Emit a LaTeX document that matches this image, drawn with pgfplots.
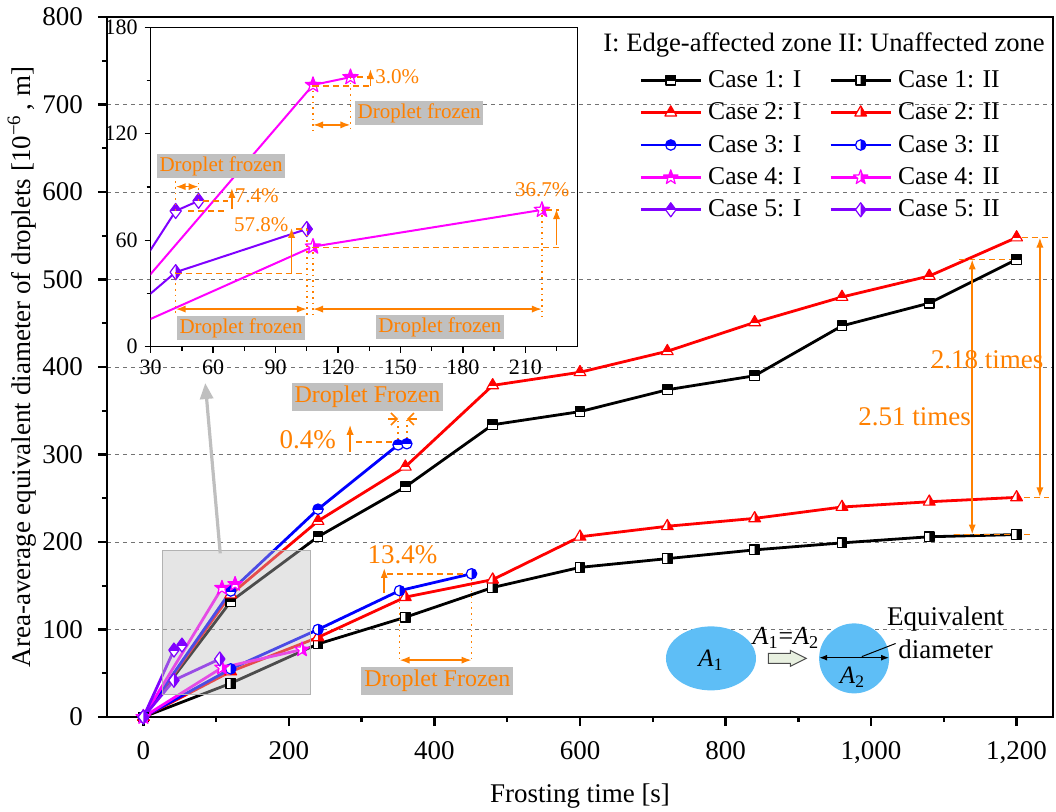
\documentclass[border=0pt]{standalone}
\usepackage{fontspec}
\setmainfont{Liberation Serif}
\usepackage{pgfplots}
\pgfplotsset{compat=1.18}
\usetikzlibrary{arrows.meta}

\definecolor{cBlack}{RGB}{0,0,0}
\definecolor{cRed}{RGB}{255,0,0}
\definecolor{cBlue}{RGB}{0,0,255}
\definecolor{cMag}{RGB}{255,0,255}
\definecolor{cPur}{RGB}{128,0,255}
\definecolor{annot}{RGB}{255,128,0}
\definecolor{boxgray}{RGB}{192,192,192}
\definecolor{dropblue}{RGB}{94,190,246}
\definecolor{arrowfill}{RGB}{232,240,224}

% ---- half-filled plot marks: white body, one half in the fill colour, outline
\newcommand\halfmark[3]{%
  \pgfdeclareplotmark{#1}{%
    \begin{pgfscope}\pgfsetfillcolor{white}#2\pgfusepath{fill}\end{pgfscope}%
    \begin{pgfscope}#3\pgfusepath{clip}#2\pgfusepath{fill}\end{pgfscope}%
    #2\pgfusepath{stroke}}}
\def\sqpath{\pgfpathrectangle{\pgfqpoint{-\pgfplotmarksize}{-\pgfplotmarksize}}{\pgfqpoint{2\pgfplotmarksize}{2\pgfplotmarksize}}}
\def\cipath{\pgfpathcircle{\pgfpointorigin}{\pgfplotmarksize}}
\def\tripath{\pgfpathmoveto{\pgfqpointpolar{90}{1.3\pgfplotmarksize}}%
  \pgfpathlineto{\pgfqpointpolar{-30}{1.3\pgfplotmarksize}}%
  \pgfpathlineto{\pgfqpointpolar{210}{1.3\pgfplotmarksize}}\pgfpathclose}
\def\dipath{\pgfpathmoveto{\pgfqpoint{0pt}{1.35\pgfplotmarksize}}%
  \pgfpathlineto{\pgfqpoint{\pgfplotmarksize}{0pt}}%
  \pgfpathlineto{\pgfqpoint{0pt}{-1.35\pgfplotmarksize}}%
  \pgfpathlineto{\pgfqpoint{-\pgfplotmarksize}{0pt}}\pgfpathclose}
\def\stpath{\pgfpathmoveto{\pgfqpointpolar{90}{1.35\pgfplotmarksize}}%
  \pgfpathlineto{\pgfqpointpolar{126}{.55\pgfplotmarksize}}%
  \pgfpathlineto{\pgfqpointpolar{162}{1.35\pgfplotmarksize}}%
  \pgfpathlineto{\pgfqpointpolar{198}{.55\pgfplotmarksize}}%
  \pgfpathlineto{\pgfqpointpolar{234}{1.35\pgfplotmarksize}}%
  \pgfpathlineto{\pgfqpointpolar{270}{.55\pgfplotmarksize}}%
  \pgfpathlineto{\pgfqpointpolar{306}{1.35\pgfplotmarksize}}%
  \pgfpathlineto{\pgfqpointpolar{342}{.55\pgfplotmarksize}}%
  \pgfpathlineto{\pgfqpointpolar{18}{1.35\pgfplotmarksize}}%
  \pgfpathlineto{\pgfqpointpolar{54}{.55\pgfplotmarksize}}\pgfpathclose}
% clip windows kept within the mark so they do not enlarge its bounding box
\def\cliptop{\pgfpathrectangle{\pgfqpoint{-1.4\pgfplotmarksize}{0pt}}{\pgfqpoint{2.8\pgfplotmarksize}{1.4\pgfplotmarksize}}}
\def\clipright{\pgfpathrectangle{\pgfqpoint{0pt}{-1.4\pgfplotmarksize}}{\pgfqpoint{1.4\pgfplotmarksize}{2.8\pgfplotmarksize}}}
\halfmark{sqI}{\sqpath}{\cliptop}
\halfmark{sqII}{\sqpath}{\clipright}
\halfmark{ciI}{\cipath}{\cliptop}
\halfmark{ciII}{\cipath}{\clipright}
\halfmark{trI}{\tripath}{\cliptop}
\halfmark{trII}{\tripath}{\clipright}
\halfmark{stI}{\stpath}{\cliptop}
\halfmark{stII}{\stpath}{\clipright}
\halfmark{diI}{\dipath}{\cliptop}
\halfmark{diII}{\dipath}{\clipright}

\newcommand\fsz[1]{\fontsize{#1}{1.2\dimexpr#1pt\relax}\selectfont}

\pgfplotsset{
  series/.style 2 args={color=#1, line width=1.4pt, mark=#2,
    mark options={solid, fill=#1, draw=#1, line width=0.6pt, line join=round}},
  legend image code/.code={%
    \draw[mark repeat=2,mark phase=2] plot coordinates {(0pt,0pt) (15pt,0pt) (30pt,0pt)};},
}
\tikzset{
  annarrow/.style={annot, line width=0.8pt, -{Latex[length=5pt,width=3.6pt]}},
  annboth/.style={annot, line width=0.8pt, {Latex[length=5pt,width=3.6pt]}-{Latex[length=5pt,width=3.6pt]}},
  anndash/.style={annot, line width=0.8pt, dash pattern=on 3pt off 2pt},
  anndot/.style={annot, line width=0.8pt, dotted},
}

% ---- measured values
\pgfplotstableread{
t d
0 0
120 132
240 206
360 263
480 334
600 349
720 374
840 390
960 447
1080 473
1200 523
}\caseOneI
\pgfplotstableread{
t d
0 0
120 38.5
240 83.5
360 114
480 148
600 171
720 181
840 191
960 199
1080 206
1200 208.5
}\caseOneII
\pgfplotstableread{
t d
0 0
120 140
240 224
360 286
480 379
600 394
720 418
840 451
960 480
1080 504
1200 548
}\caseTwoI
\pgfplotstableread{
t d
0 0
120 52
240 91
360 137
480 157
600 206
720 218
840 227
960 240
1080 246
1200 251
}\caseTwoII
\pgfplotstableread{
t d
0 0
120 144
240 237.5
350 311
362 312.3
}\caseThreeI
\pgfplotstableread{
t d
0 0
120 55
240 100
352 144.4
451 163.7
}\caseThreeII
\pgfplotstableread{
t d
0 0
108 147.5
126 151.9
}\caseFourI
\pgfplotstableread{
t d
0 0
108 56.4
218 77.1
}\caseFourII
\pgfplotstableread{
t d
0 0
42 76.5
53 82.2
}\caseFiveI
\pgfplotstableread{
t d
0 0
42 42
105 66.3
}\caseFiveII

\begin{document}
\begin{tikzpicture}
\begin{axis}[name=main, scale only axis, width=473pt, height=350pt,
  xmin=-50, xmax=1250, ymin=0, ymax=800, clip=false,
  xtick={0,200,...,1200}, minor xtick={100,300,...,1100},
  ytick={0,100,...,800}, minor ytick={50,150,...,750},
  tick align=outside, tick pos=left,
  major tick length=4.5pt, minor tick length=2.5pt,
  ymajorgrids, grid style={dash pattern=on 2pt off 2pt, black!55, line width=0.5pt},
  axis line style={line width=1.2pt},
  every tick/.style={black, line width=1.2pt},
  /pgf/number format/assume math mode=true,
  /pgf/number format/1000 sep={,},
  tick label style={font=\fsz{13.5}},
  xticklabel style={yshift=-4pt},
  yticklabel style={xshift=-4pt},
  xlabel={Frosting time [s]},
  ylabel={Area-average equivalent diameter of droplets [10\textsuperscript{−6}\,, m]},
  xlabel style={font=\fsz{13.5}, at={(axis description cs:0.5,-0.113)}, anchor=center},
  ylabel style={font=\fsz{13.5}, at={(axis description cs:-0.0899,0.5)}, anchor=center},
  legend columns=2,
  legend style={at={(axis description cs:0.556,0.936)}, anchor=north west,
    draw=none, fill=none, font=\fsz{12.8}, row sep=2.2pt,
    nodes={inner sep=1pt, text height=9.5pt, text depth=2.5pt},
    /tikz/every even column/.append style={column sep=13pt},
    /tikz/every odd column/.append style={column sep=2pt}},
  legend cell align=left,
]
\addplot[series={cBlack}{sqI}, mark size=2.4pt] table {\caseOneI};
\addlegendentry{Case 1: I}
\addplot[series={cBlack}{sqII}, mark size=2.4pt] table {\caseOneII};
\addlegendentry{Case 1: II}
\addplot[series={cRed}{trI}, mark size=2.6pt] table {\caseTwoI};
\addlegendentry{Case 2: I}
\addplot[series={cRed}{trII}, mark size=2.6pt] table {\caseTwoII};
\addlegendentry{Case 2: II}
\addplot[series={cBlue}{ciI}, mark size=2.6pt] table {\caseThreeI};
\addlegendentry{Case 3: I}
\addplot[series={cBlue}{ciII}, mark size=2.6pt] table {\caseThreeII};
\addlegendentry{Case 3: II}
\addplot[series={cMag}{stI}, mark size=2.8pt] table {\caseFourI};
\addlegendentry{Case 4: I}
\addplot[series={cMag}{stII}, mark size=2.8pt] table {\caseFourII};
\addlegendentry{Case 4: II}
\addplot[series={cPur}{diI}, mark size=2.6pt] table {\caseFiveI};
\addlegendentry{Case 5: I}
\addplot[series={cPur}{diII}, mark size=2.6pt] table {\caseFiveII};
\addlegendentry{Case 5: II}

\node[font=\fsz{13.3}] at (axis description cs:0.758,0.96) {I: Edge-affected zone II: Unaffected zone};

% magnified region and pointer to the inset
\draw[draw=black!30, line width=0.6pt, fill=black!25, fill opacity=0.4]
  (axis cs:26.5,26) rectangle (axis cs:230,190);
\draw[black!25, line width=1.6pt, -{Triangle[length=8pt,width=6.5pt]}]
  (axis cs:105.6,187) -- (axis cs:85,381.7);

% Case 3, upper branch: freezing step
\node[fill=boxgray, text=annot, inner sep=1.5pt, font=\fsz{12}] at (axis cs:308,365.5) {Droplet Frozen};
\draw[annot, line width=0.8pt, -{Straight Barb[length=3pt]}] (axis cs:336,340.6) -- (axis cs:350,340.6);
\draw[annot, line width=0.8pt, -{Straight Barb[length=3pt]}] (axis cs:376,340.6) -- (axis cs:362,340.6);
\draw[anndot] (axis cs:350,311) -- (axis cs:350,343);
\draw[anndot] (axis cs:362,312.3) -- (axis cs:362,343);
\draw[anndash] (axis cs:292,314) -- (axis cs:362,314);
\draw[annarrow] (axis cs:284,303) -- (axis cs:284,334);
\node[text=annot, font=\fsz{13.5}] at (axis cs:226,316.6) {0.4\%};

% Case 3, lower branch: freezing step
\draw[annarrow] (axis cs:331,141.7) -- (axis cs:331,170.3);
\draw[anndash] (axis cs:335,163.7) -- (axis cs:451,163.7);
\draw[anndot] (axis cs:352,144.4) -- (axis cs:352,65);
\draw[anndot] (axis cs:451,163.7) -- (axis cs:451,65);
\draw[annboth] (axis cs:352,65) -- (axis cs:451,65);
\node[text=annot, font=\fsz{13.5}] at (axis cs:356,185) {13.4\%};
\node[fill=boxgray, text=annot, inner sep=1.5pt, font=\fsz{12}] at (axis cs:404,41.4) {Droplet Frozen};

% ratios at the end of the test
\draw[anndash] (axis cs:1121,523) -- (axis cs:1207,523);
\draw[anndash] (axis cs:1114,208.5) -- (axis cs:1221,208.5);
\draw[annboth] (axis cs:1139,523) -- (axis cs:1139,208.5);
\node[text=annot, font=\fsz{13.5}] at (axis cs:1060,343) {2.51 times};
\draw[anndash] (axis cs:1207,548) -- (axis cs:1244,548);
\draw[anndash] (axis cs:1210,251) -- (axis cs:1244,251);
\draw[annboth] (axis cs:1232,548) -- (axis cs:1232,251);
\node[text=annot, font=\fsz{13.5}] at (axis cs:1159.6,408) {2.18 times};

% sketch of the equivalent diameter
\fill[dropblue] (axis cs:780,67) ellipse [x radius=22.5pt, y radius=16pt];
\node[font=\fsz{12.5}] at (axis cs:780,65) {\textit{A}\textsubscript{1}};
\draw[black!70, fill=arrowfill, line width=0.5pt] (axis cs:884.8,67)
  ++(-9.5pt,-2.5pt) -- ++(11pt,0pt) -- ++(0pt,-1.5pt) -- ++(8pt,4pt)
  -- ++(-8pt,4pt) -- ++(0pt,-1.5pt) -- ++(-11pt,0pt) -- cycle;
\node[font=\fsz{13}] at (axis cs:883,90) {\textit{A}\textsubscript{1}=\textit{A}\textsubscript{2}};
\fill[dropblue] (axis cs:976.7,67) circle [radius=17.5pt];
\draw[line width=0.6pt, {Latex[length=4pt,width=3pt]}-{Latex[length=4pt,width=3pt]}]
  (axis cs:928.7,67.8) -- (axis cs:1024.7,67.8);
\node[font=\fsz{12.5}] at (axis cs:974.5,45.4) {\textit{A}\textsubscript{2}};
\draw[line width=0.5pt] (axis cs:987.3,69) -- (axis cs:1033.7,84);
\node[font=\fontsize{13.5}{16.5}\selectfont, align=center] at (axis cs:1102.5,96) {Equivalent\\diameter};
\end{axis}

% ---- inset: early stage of cases 4 and 5
\coordinate (insetcorner) at ([xshift=21.85pt,yshift=-5.15pt]main.north west);
\begin{axis}[name=inset, at={(insetcorner)}, anchor=north west,
  scale only axis, width=213.3pt, height=159.7pt,
  xmin=30, xmax=235, ymin=0, ymax=180,
  xtick={30,60,...,210}, minor xtick={45,75,...,225},
  ytick={0,60,120,180}, minor ytick={30,90,150},
  tick align=outside, tick pos=left,
  major tick length=3pt, minor tick length=2pt,
  axis line style={line width=0.7pt},
  every tick/.style={black, line width=0.7pt},
  /pgf/number format/assume math mode=true,
  tick label style={font=\fsz{11}},
  clip mode=individual,
]
\addplot[series={cMag}{stI}, line width=1pt, mark size=3pt] table {\caseFourI};
\addplot[series={cMag}{stII}, line width=1pt, mark size=3pt] table {\caseFourII};
\addplot[series={cPur}{diI}, line width=1pt, mark size=2.8pt] table {\caseFiveI};
\addplot[series={cPur}{diII}, line width=1pt, mark size=2.8pt] table {\caseFiveII};

% Case 4, upper branch
\draw[anndash] (axis cs:108,146.9) -- (axis cs:135.6,146.9);
\draw[anndash] (axis cs:129,151.9) -- (axis cs:134.5,151.9);
\draw[annarrow] (axis cs:135.6,146.9) -- (axis cs:135.6,156.5);
\node[text=annot, font=\fsz{10.5}, anchor=west, inner sep=0pt] at (axis cs:137.8,152.2) {3.0\%};
\draw[anndot] (axis cs:108,147.5) -- (axis cs:108,121);
\draw[anndot] (axis cs:126,151.9) -- (axis cs:126,121);
\draw[annboth] (axis cs:108,125) -- (axis cs:126,125);
\node[fill=boxgray, text=annot, inner sep=1.2pt, font=\fsz{10.5}] at (axis cs:159,131.7) {Droplet frozen};

% Case 5, upper branch
\node[fill=boxgray, text=annot, inner sep=1.2pt, font=\fsz{10.5}] at (axis cs:63.8,101.8) {Droplet frozen};
\draw[anndot] (axis cs:42,76.5) -- (axis cs:42,95);
\draw[anndot] (axis cs:53,82.2) -- (axis cs:53,92);
\draw[annboth] (axis cs:42,90.2) -- (axis cs:53,90.2);
\draw[anndash] (axis cs:55,82.2) -- (axis cs:67,82.2);
\draw[anndash] (axis cs:48,76.5) -- (axis cs:67,76.5);
\draw[annarrow] (axis cs:69,77.5) -- (axis cs:69,89.5);
\node[text=annot, font=\fsz{10.5}, anchor=west, inner sep=0pt] at (axis cs:70.3,84.9) {7.4\%};

% Case 5, lower branch
\draw[anndash] (axis cs:42,41.3) -- (axis cs:104,41.3);
\draw[anndash] (axis cs:100,66.3) -- (axis cs:105,66.3);
\draw[annarrow] (axis cs:97.7,41.3) -- (axis cs:97.7,67);
\node[text=annot, font=\fsz{10.5}, anchor=east, inner sep=0pt] at (axis cs:96.3,69) {57.8\%};
\draw[anndot] (axis cs:42,42) -- (axis cs:42,17.5);
\draw[anndot] (axis cs:105,66.3) -- (axis cs:105,16.5);
\draw[annboth] (axis cs:42,21.2) -- (axis cs:105,21.2);
\node[fill=boxgray, text=annot, inner sep=1.2pt, font=\fsz{10.5}] at (axis cs:73.4,10.3) {Droplet frozen};

% Case 4, lower branch
\draw[anndash] (axis cs:108,55.8) -- (axis cs:226,55.8);
\draw[anndash] (axis cs:220,77.1) -- (axis cs:226,77.1);
\draw[annarrow] (axis cs:225,57.3) -- (axis cs:225,77.6);
\node[text=annot, font=\fsz{10.5}] at (axis cs:218.2,88.3) {36.7\%};
\draw[anndot] (axis cs:108,56.4) -- (axis cs:108,17.5);
\draw[anndot] (axis cs:218,77.1) -- (axis cs:218,16.5);
\draw[annboth] (axis cs:108,21.2) -- (axis cs:218,21.2);
\node[fill=boxgray, text=annot, inner sep=1.2pt, font=\fsz{10.5}] at (axis cs:169,10.9) {Droplet frozen};
\end{axis}

\pgfresetboundingbox
\path[use as bounding box] ([xshift=-53.5pt,yshift=-47pt]main.south west)
  rectangle ([xshift=1.5pt,yshift=8.5pt]main.north east);
\end{tikzpicture}
\end{document}
